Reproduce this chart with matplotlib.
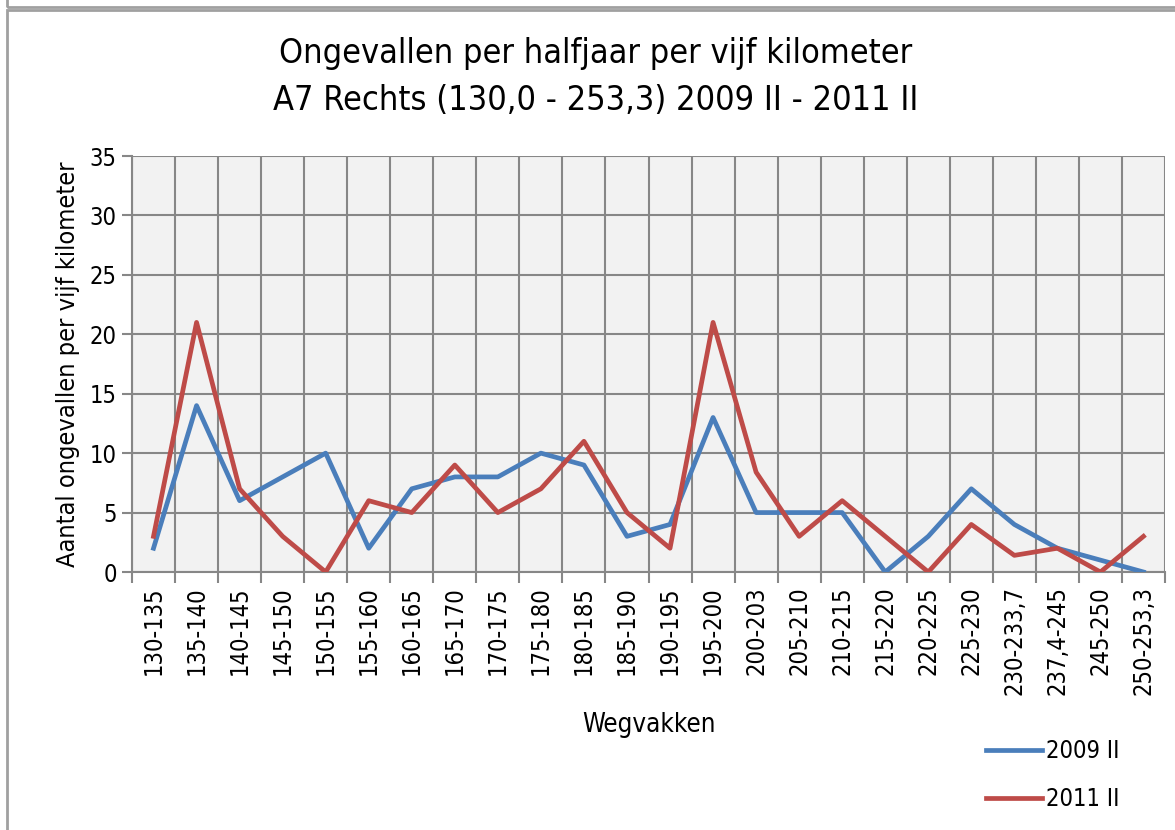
import matplotlib
matplotlib.use("Agg")
import matplotlib.pyplot as plt
from matplotlib.patches import Rectangle

plt.rcParams['font.family'] = ['DejaVu Sans']
plt.rcParams['font.stretch'] = 'condensed'

# Data
wegvakken = ['130-135', '135-140', '140-145', '145-150', '150-155', '155-160',
             '160-165', '165-170', '170-175', '175-180', '180-185', '185-190',
             '190-195', '195-200', '200-203', '205-210', '210-215', '215-220',
             '220-225', '225-230', '230-233,7', '237,4-245', '245-250', '250-253,3']
h2009 = [2, 14, 6, 8, 10, 2, 7, 8, 8, 10, 9, 3, 4, 13, 5, 5, 5, 0, 3, 7, 4, 2, 1, 0]
h2011 = [3, 21, 7, 3, 0, 6, 5, 9, 5, 7, 11, 5, 2, 21, 8.4, 3, 6, 3, 0, 4, 1.4, 2, 0, 3]

fig = plt.figure(figsize=(11.75, 8.3), dpi=100)

# outer frames like the spreadsheet chart
fig.patches.append(Rectangle((7 / 1175, 1 - 7 / 830), 1.2, 0.2, transform=fig.transFigure,
                             fill=False, edgecolor='#a0a0a0', lw=2))
fig.patches.append(Rectangle((7 / 1175, -0.2), 1.2, 1.2 - 10 / 830, transform=fig.transFigure,
                             fill=False, edgecolor='#a0a0a0', lw=2))

ax = fig.add_axes([132 / 1175, 1 - 572 / 830, (1165 - 132) / 1175, (572 - 156) / 830])
ax.set_facecolor('#f2f2f2')

x = list(range(len(wegvakken)))
ax.plot(x, h2009, color='#4a7ebb', lw=3.4, label='2009 II', zorder=3)
ax.plot(x, h2011, color='#be4b48', lw=3.4, label='2011 II', zorder=4)

ax.set_xlim(-0.5, len(wegvakken) - 0.5)
ax.set_ylim(0, 35)
ax.set_yticks(range(0, 36, 5))
ax.set_xticks(x)
ax.set_xticklabels(wegvakken, rotation=90, fontsize=17)
ax.tick_params(axis='x', length=0, pad=10)
ax.set_xticks([i - 0.5 for i in range(len(wegvakken) + 1)], minor=True)
ax.tick_params(axis='x', which='minor', length=8, width=1.5, color='#878787')
ax.tick_params(axis='y', length=7, width=1.5, color='#878787', labelsize=17, pad=4)

ax.grid(True, axis='y', which='major', color='#878787', lw=1.5)
ax.grid(True, axis='x', which='minor', color='#878787', lw=1.5)
ax.set_axisbelow(True)
for s in ax.spines.values():
    s.set_visible(False)
ax.spines['left'].set_visible(True)
ax.spines['left'].set_color('#878787')
ax.spines['left'].set_linewidth(1.5)
ax.spines['bottom'].set_visible(True)
ax.spines['bottom'].set_color('#878787')
ax.spines['bottom'].set_linewidth(1.5)

ax.set_ylabel('Aantal ongevallen per vijf kilometer', fontsize=18.2, labelpad=7)
ax.set_xlabel('Wegvakken', fontsize=18.5, labelpad=12)

fig.text(596 / 1175, 1 - 53 / 830, 'Ongevallen per halfjaar per vijf kilometer',
         ha='center', va='center', fontsize=24.6)
fig.text(596 / 1175, 1 - 101 / 830, 'A7 Rechts (130,0 - 253,3) 2009 II - 2011 II',
         ha='center', va='center', fontsize=24.6)

fig.legend(loc='center left', bbox_to_anchor=(965 / 1175, 1 - 775 / 830), frameon=False,
           fontsize=17, handlelength=2.35, handletextpad=0.2, labelspacing=1.0)

fig.savefig('out.png', dpi=100)
